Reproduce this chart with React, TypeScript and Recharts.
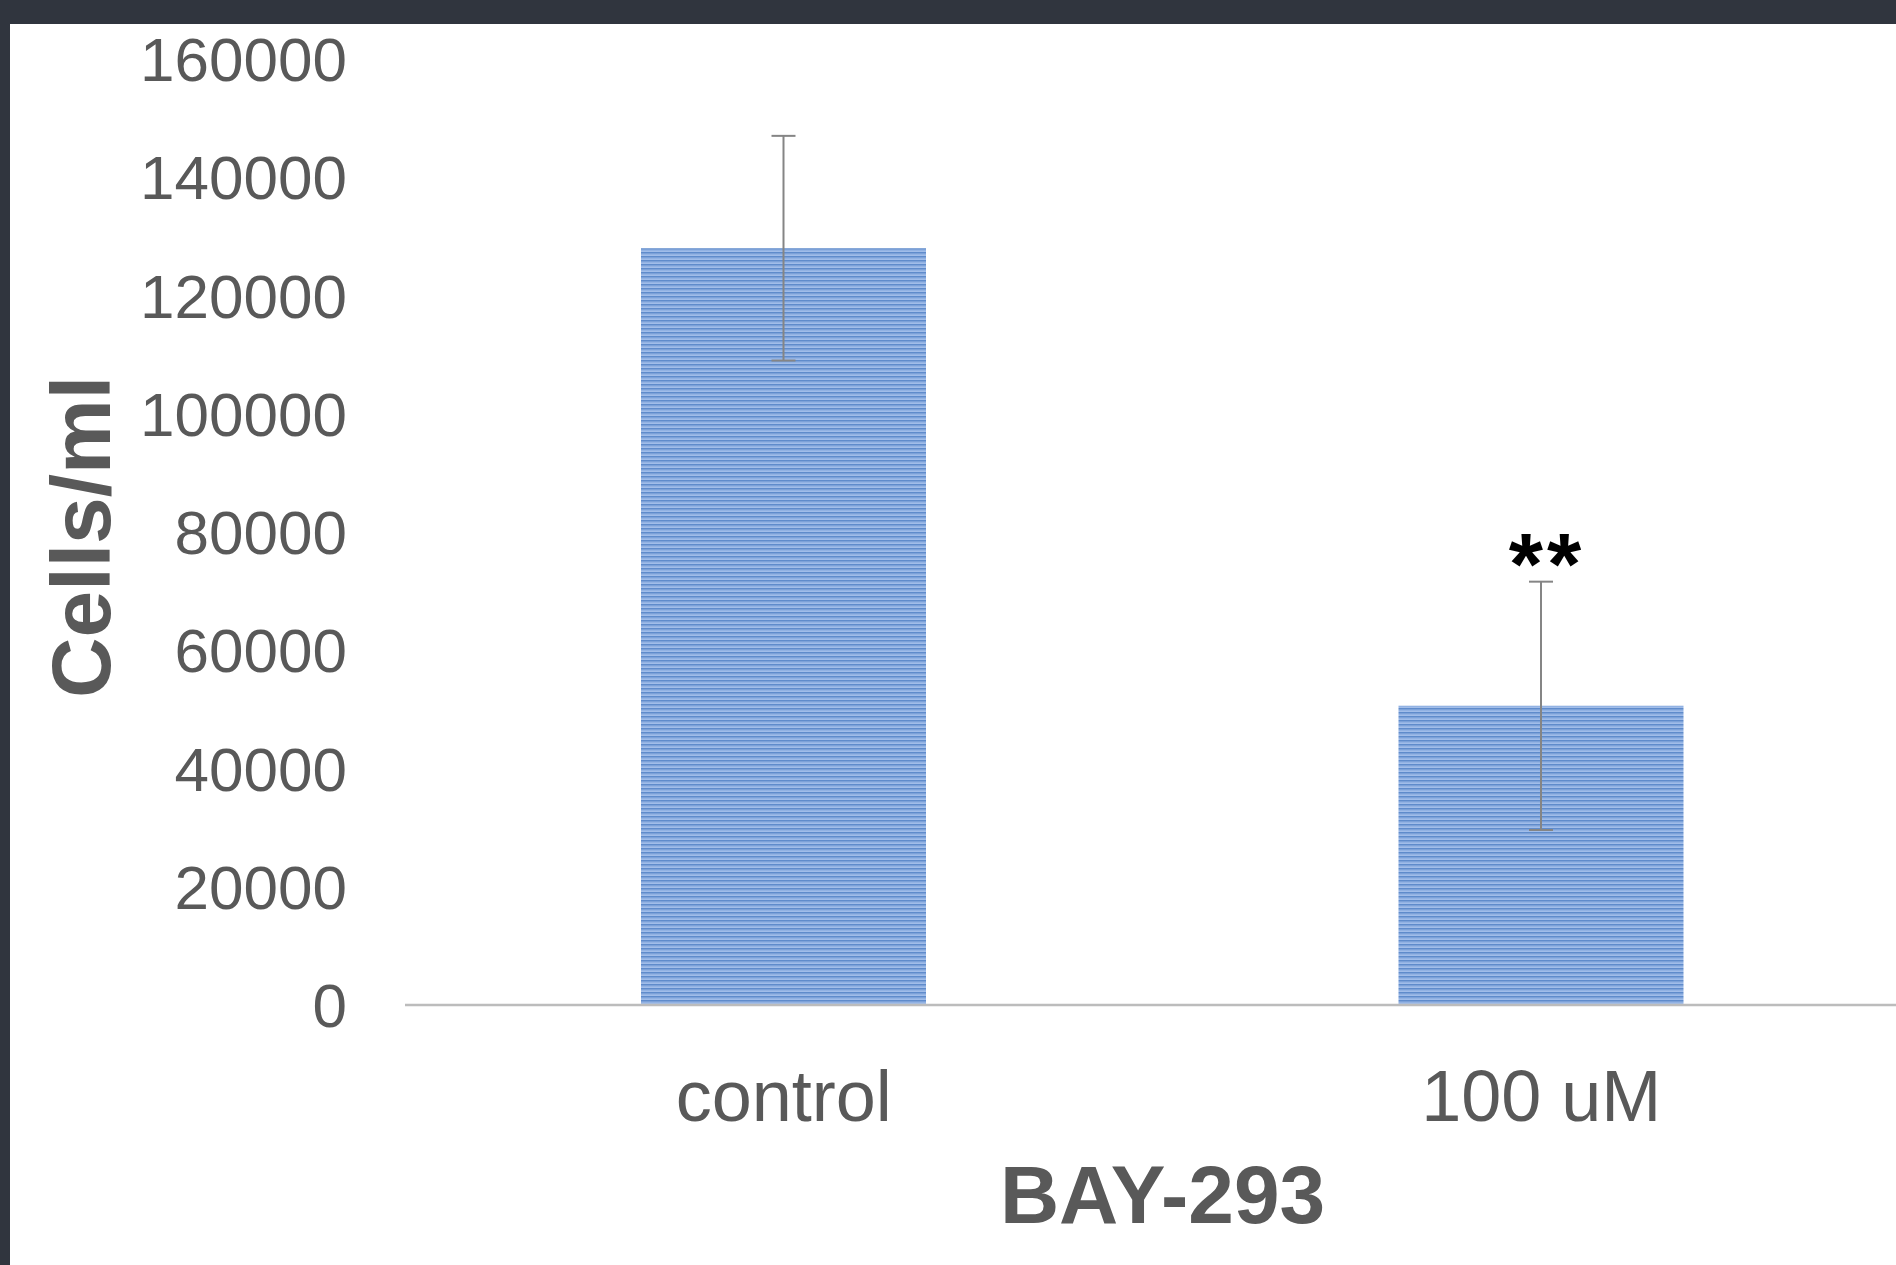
import React from "react";
import {
  BarChart,
  Bar,
  XAxis,
  YAxis,
  ErrorBar,
  LabelList,
} from "recharts";

const categories = ["control", "100 uM"];
const cellCounts = [128000, 50600];
const errors = [19000, 21000];
const significance = ["", "**"];
const yTicks = [0, 20000, 40000, 60000, 80000, 100000, 120000, 140000, 160000];

const data = categories.map((name, i) => ({
  name,
  cells: cellCounts[i],
  err: errors[i],
  sig: significance[i],
}));

const FONT = "'Liberation Sans', Arial, sans-serif";
const TEXT = "#595959";

const XTitle = (props: any) => {
  const { viewBox } = props;
  return (
    <text
      x={viewBox.x + viewBox.width / 2}
      y={viewBox.y + 218}
      textAnchor="middle"
      fontFamily={FONT}
      fontWeight="bold"
      fontSize={82}
      fill={TEXT}
    >
      BAY-293
    </text>
  );
};

const YTitle = (props: any) => {
  const { viewBox } = props;
  const cx = viewBox.x + 110;
  const cy = viewBox.y + viewBox.height / 2 + 5;
  return (
    <text
      x={cx}
      y={cy}
      transform={`rotate(-90, ${cx}, ${cy})`}
      textAnchor="middle"
      fontFamily={FONT}
      fontWeight="bold"
      fontSize={84}
      fill={TEXT}
    >
      Cells/ml
    </text>
  );
};

const SigLabel = (props: any) => {
  const { x, y, width, height, value, index } = props;
  if (!value) return null;
  // error bar top, from the bar's own pixel scale
  const errTop = y - (errors[index] * height) / cellCounts[index];
  return (
    <text
      x={x + width / 2 + 6}
      y={errTop + 12}
      textAnchor="middle"
      fontFamily={FONT}
      fontWeight="bold"
      fontSize={88}
      letterSpacing={4}
      fill="#000"
    >
      {value}
    </text>
  );
};

export default function App() {
  return (
    <div
      style={{
        position: "absolute",
        left: 0,
        top: 0,
        width: 1896,
        height: 1265,
        overflow: "hidden",
        background: "#fff",
      }}
    >
      <BarChart
        width={1940}
        height={1265}
        data={data}
        margin={{ top: 59, right: 20, bottom: 0, left: 0 }}
      >
        <defs>
          <pattern id="stripes" patternUnits="userSpaceOnUse" width={8} height={4}>
            <rect x={0} y={0} width={8} height={4} fill="#a8c3ec" />
            <rect x={0} y={0} width={8} height={1.6} fill="#5f8bcb" />
            <rect x={0} y={2.4} width={8} height={0.8} fill="#84a8de" />
          </pattern>
        </defs>
        <XAxis
          dataKey="name"
          height={260}
          tickLine={false}
          tickSize={0}
          tickMargin={65}
          axisLine={{ stroke: "#bcbcbc", strokeWidth: 2.5 }}
          tick={{ fill: TEXT, fontSize: 72, fontFamily: FONT }}
          label={<XTitle />}
        />
        <YAxis
          width={405}
          domain={[0, 160000]}
          ticks={yTicks}
          interval={0}
          axisLine={false}
          tickLine={false}
          tickSize={0}
          tickMargin={58}
          tick={{ fill: TEXT, fontSize: 62, fontFamily: FONT }}
          label={<YTitle />}
        />
        <Bar
          dataKey="cells"
          fill="url(#stripes)"
          barSize={285}
          isAnimationActive={false}
        >
          <ErrorBar
            dataKey="err"
            direction="y"
            width={12}
            stroke="#858585"
            strokeWidth={2}
            isAnimationActive={false}
          />
          <LabelList dataKey="sig" content={<SigLabel />} />
        </Bar>
      </BarChart>
      <div
        style={{
          position: "absolute",
          left: 0,
          top: 0,
          width: 1896,
          height: 24,
          background: "#30353e",
        }}
      />
      <div
        style={{
          position: "absolute",
          left: 0,
          top: 0,
          width: 10,
          height: 1265,
          background: "#30353e",
        }}
      />
    </div>
  );
}
